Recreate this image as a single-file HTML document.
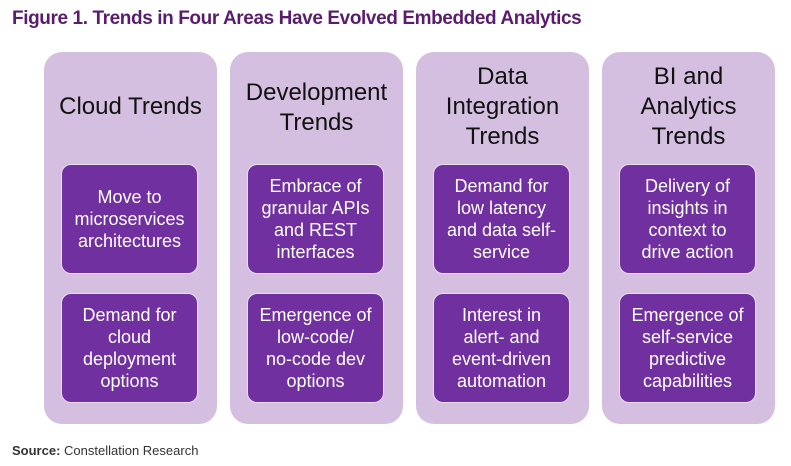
<!DOCTYPE html>
<html><head><style>
body{margin:0;width:791px;height:466px;background:#fff;font-family:"Liberation Sans",sans-serif;position:relative;overflow:hidden}
.t{position:absolute;left:12px;top:8px;font-size:19px;font-weight:bold;color:#5a1d6e;white-space:nowrap;letter-spacing:-0.4px}
.col{position:absolute;top:52px;width:173px;height:372px;background:#d4bfe0;border-radius:18px}
.h{position:absolute;left:0;width:173px;text-align:center;font-size:24px;line-height:30px;color:#111}
.b{position:absolute;left:17px;width:137px;height:110px;background:#7030a0;border:1px solid #e8dcef;border-radius:10px;color:#fff;font-size:18px;line-height:22px;text-align:center;display:flex;align-items:center;justify-content:center;box-sizing:border-box}
.s{position:absolute;left:12px;top:443px;font-size:13px;color:#333}
</style></head><body>
<div class="t">Figure 1. Trends in Four Areas Have Evolved Embedded Analytics</div>
<div class="col" style="left:44px"><div class="h" style="top:40px">Cloud Trends</div>
<div class="b" style="top:112px">Move to<br>microservices<br>architectures</div>
<div class="b" style="top:241px">Demand for<br>cloud<br>deployment<br>options</div></div>
<div class="col" style="left:230px"><div class="h" style="top:26px">Development<br>Trends</div>
<div class="b" style="top:112px">Embrace of<br>granular APIs<br>and REST<br>interfaces</div>
<div class="b" style="top:241px">Emergence of<br>low-code/<br>no-code dev<br>options</div></div>
<div class="col" style="left:416px"><div class="h" style="top:10px">Data<br>Integration<br>Trends</div>
<div class="b" style="top:112px">Demand for<br>low latency<br>and data self-<br>service</div>
<div class="b" style="top:241px">Interest in<br>alert- and<br>event-driven<br>automation</div></div>
<div class="col" style="left:602px"><div class="h" style="top:10px">BI and<br>Analytics<br>Trends</div>
<div class="b" style="top:112px">Delivery of<br>insights in<br>context to<br>drive action</div>
<div class="b" style="top:241px">Emergence of<br>self-service<br>predictive<br>capabilities</div></div>
<div class="s"><b>Source:</b> Constellation Research</div>
</body></html>
